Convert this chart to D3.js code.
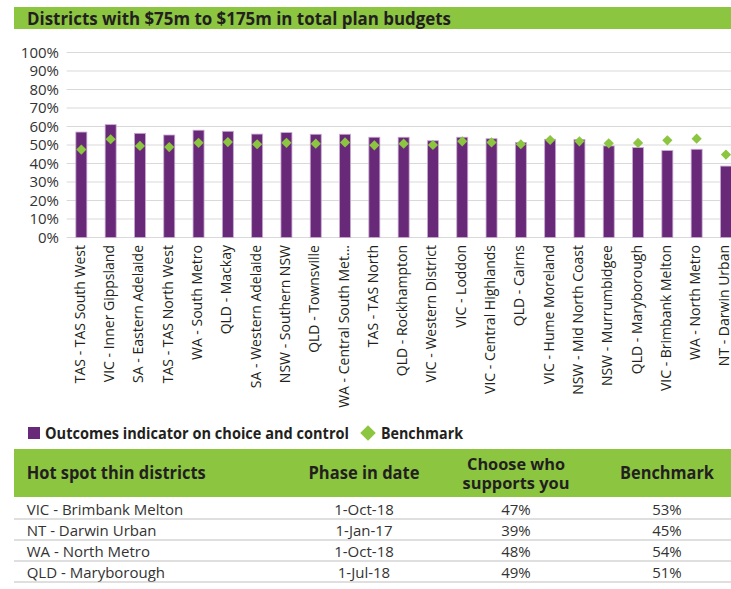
<!DOCTYPE html>
<html>
<head>
<meta charset="utf-8">
<script src="https://cdn.jsdelivr.net/npm/d3@7"></script>
<style>
  body { margin: 0; background: #fff; }
  text { font-family: "Open Sans", sans-serif; fill: #231f20; }
</style>
</head>
<body>
<div id="chart"></div>
<script>
// data
const districts = [
  "TAS - TAS South West", "VIC - Inner Gippsland", "SA - Eastern Adelaide",
  "TAS - TAS North West", "WA - South Metro", "QLD - Mackay",
  "SA - Western Adelaide", "NSW - Southern NSW", "QLD - Townsville",
  "WA - Central South Met...", "TAS - TAS North", "QLD - Rockhampton",
  "VIC - Western District", "VIC - Loddon", "VIC - Central Highlands",
  "QLD - Cairns", "VIC - Hume Moreland", "NSW - Mid North Coast",
  "NSW - Murrumbidgee", "QLD - Maryborough", "VIC - Brimbank Melton",
  "WA - North Metro", "NT - Darwin Urban"
];
const outcomes = [57, 61, 56.3, 55.4, 58, 57.4, 55.9, 56.7, 55.8, 55.8, 54.2, 54.2,
  52.3, 54.2, 53.4, 51.4, 53.1, 53, 49.5, 48.6, 47, 47.7, 38.6];
const benchmark = [47.5, 53.1, 49.5, 48.9, 51.2, 51.6, 50.4, 51.2, 50.7, 51.4, 49.8, 50.7,
  50, 52, 51.4, 50.4, 52.7, 52, 50.9, 51.1, 52.5, 53.4, 44.8];
const yTicks = [0, 10, 20, 30, 40, 50, 60, 70, 80, 90, 100];

const tableHead = ["Hot spot thin districts", "Phase in date", "Choose who|supports you", "Benchmark"];
const tableDistricts = ["VIC - Brimbank Melton", "NT - Darwin Urban", "WA - North Metro", "QLD - Maryborough"];
const tableDates = ["1-Oct-18", "1-Jan-17", "1-Oct-18", "1-Jul-18"];
const tableChoose = ["47%", "39%", "48%", "49%"];
const tableBench = ["53%", "45%", "54%", "51%"];

const purple = "#682a78", green = "#8cc540";

var svg = d3.select("#chart")
    .append("svg")
    .attr("width", 731)
    .attr("height", 589);

// title bar
svg.append("rect").attr("x", 14).attr("y", 7).attr("width", 717).attr("height", 22).attr("fill", green);
svg.append("text").attr("x", 27).attr("y", 25)
    .attr("font-size", 17).attr("font-weight", 700)
    .attr("textLength", 424).attr("lengthAdjust", "spacingAndGlyphs")
    .text("Districts with $75m to $175m in total plan budgets");

// scales
var x = d3.scaleBand().domain(districts).range([66.7, 740.6]).padding(0);
var y = d3.scaleLinear().domain([0, 100]).range([237.5, 52.5]);
var barW = 11;

// grid + y labels
svg.append("g").selectAll("line")
    .data(yTicks).enter().append("line")
    .attr("x1", 66.7).attr("x2", 731)
    .attr("y1", d => y(d)).attr("y2", d => y(d))
    .attr("stroke", "#d9d9d9").attr("stroke-width", 1);

svg.append("g").selectAll("text")
    .data(yTicks).enter().append("text")
    .attr("x", 59).attr("y", d => y(d)).attr("dy", "0.36em")
    .attr("text-anchor", "end").attr("font-size", 15)
    .style("fill", "#333")
    .text(d => d + "%");

// bars
svg.append("g").selectAll("rect")
    .data(districts).enter().append("rect")
    .attr("x", d => x(d) + (x.bandwidth() - barW) / 2)
    .attr("y", (d, i) => y(outcomes[i]))
    .attr("width", barW)
    .attr("height", (d, i) => y(0) - y(outcomes[i]))
    .attr("fill", purple)
    .attr("stroke", "#c9abd2").attr("stroke-width", 0.8);

// benchmark diamonds
svg.append("g").selectAll("path")
    .data(districts).enter().append("path")
    .attr("d", d3.symbol(d3.symbolSquare, 52))
    .attr("transform", (d, i) => "translate(" + (x(d) + x.bandwidth() / 2) + "," + y(benchmark[i]) + ") rotate(45)")
    .attr("fill", green);

// x labels
svg.append("g").selectAll("text")
    .data(districts).enter().append("text")
    .attr("transform", d => "translate(" + (x(d) + x.bandwidth() / 2 - 1.5) + ",245) rotate(-90)")
    .attr("dy", "0.36em")
    .attr("text-anchor", "end").attr("font-size", 14)
    .text(d => d);

// legend
svg.append("rect").attr("x", 28).attr("y", 427).attr("width", 12).attr("height", 12).attr("fill", purple);
svg.append("text").attr("x", 45).attr("y", 438.5)
    .attr("font-size", 16).attr("font-weight", 700)
    .attr("textLength", 304).attr("lengthAdjust", "spacingAndGlyphs")
    .text("Outcomes indicator on choice and control");
svg.append("path")
    .attr("d", d3.symbol(d3.symbolSquare, 120))
    .attr("transform", "translate(368,433) rotate(45)")
    .attr("fill", green);
svg.append("text").attr("x", 381).attr("y", 438.5)
    .attr("font-size", 16).attr("font-weight", 700)
    .attr("textLength", 82).attr("lengthAdjust", "spacingAndGlyphs")
    .text("Benchmark");

// table
var colX = [26.7, 364, 516, 667];
var headW = [[179], [111], [98, 107], [94]];
svg.append("rect").attr("x", 14).attr("y", 449).attr("width", 717).attr("height", 48).attr("fill", green);
tableHead.forEach(function (h, c) {
    var lines = h.split("|");
    lines.forEach(function (t, k) {
        var yy = lines.length == 1 ? 479 : (k == 0 ? 470 : 489);
        svg.append("text")
            .attr("x", colX[c]).attr("y", yy)
            .attr("text-anchor", c == 0 ? "start" : "middle")
            .attr("font-size", lines.length == 1 ? 17 : 16).attr("font-weight", 700)
            .attr("textLength", headW[c][k]).attr("lengthAdjust", "spacingAndGlyphs")
            .text(t);
    });
});

var rowLine = d3.scaleLinear().domain([0, 1]).range([519, 540]);
tableDistricts.forEach(function (name, i) {
    var cells = [name, tableDates[i], tableChoose[i], tableBench[i]];
    cells.forEach(function (t, c) {
        svg.append("text")
            .attr("x", colX[c]).attr("y", rowLine(i) - 4.5)
            .attr("text-anchor", c == 0 ? "start" : "middle")
            .attr("font-size", 15)
            .style("fill", "#333")
            .text(t);
    });
    svg.append("line")
        .attr("x1", 14).attr("x2", 731)
        .attr("y1", rowLine(i)).attr("y2", rowLine(i))
        .attr("stroke", "#bfbfbf").attr("stroke-width", 1);
});
</script>
</body>
</html>
